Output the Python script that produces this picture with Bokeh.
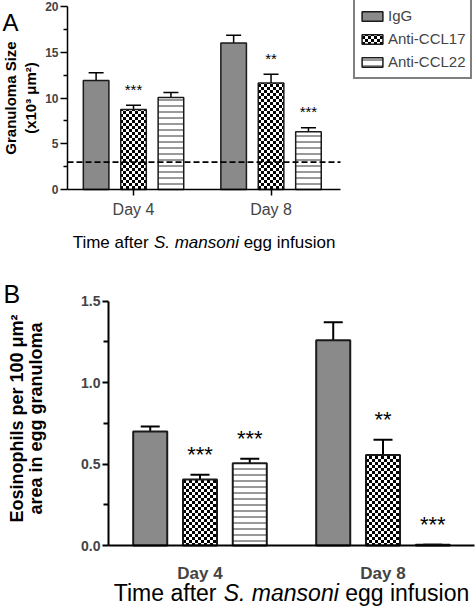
import zlib, struct, base64
from math import pi
from bokeh.plotting import figure
from bokeh.models import (ColumnDataSource, Whisker, TeeHead, Label, Legend, LegendItem,
                          FixedTicker, ImageURLTexture, Range1d, PrintfTickFormatter)
from bokeh.layouts import column
from bokeh.core.properties import value
from bokeh.embed import file_html
from bokeh.resources import INLINE

# ---------------- data ----------------
days = ["Day 4", "Day 8"]
groups = ["IgG", "Anti-CCL17", "Anti-CCL22"]

# Panel A: granuloma size (x10^3 um^2)
gran_igg = [11.9, 16.0]
gran_ccl17 = [8.75, 11.65]
gran_ccl22 = [10.05, 6.3]
gran_igg_sem = [0.85, 0.85]
gran_ccl17_sem = [0.45, 0.95]
gran_ccl22_sem = [0.55, 0.45]
gran_igg_sig = ["", ""]
gran_ccl17_sig = ["***", "**"]
gran_ccl22_sig = ["", "***"]
gran_baseline = 3.0
gran_ticks = [0, 5, 10, 15, 20]

# Panel B: eosinophils per 100 um^2
eos_igg = [0.70, 1.26]
eos_ccl17 = [0.405, 0.555]
eos_ccl22 = [0.505, 0.005]
eos_igg_sem = [0.03, 0.11]
eos_ccl17_sem = [0.03, 0.095]
eos_ccl22_sem = [0.027, 0.0]
eos_igg_sig = ["", ""]
eos_ccl17_sig = ["***", "**"]
eos_ccl22_sig = ["***", "***"]
eos_ticks = [0.0, 0.5, 1.0, 1.5]

FONT = "Liberation Sans"
W = 475


def checker_png(cell):
    n = 2 * cell
    raw = b"".join(b"\x00" + bytes(0 if ((xx // cell) + (yy // cell)) % 2 == 0 else 255
                                   for xx in range(n)) for yy in range(n))

    def chunk(tag, data):
        return (struct.pack(">I", len(data)) + tag + data +
                struct.pack(">I", zlib.crc32(tag + data) & 0xffffffff))
    png = (b"\x89PNG\r\n\x1a\n" + chunk(b"IHDR", struct.pack(">IIBBBBB", n, n, 8, 0, 0, 0, 0)) +
           chunk(b"IDAT", zlib.compress(raw)) + chunk(b"IEND", b""))
    return "data:image/png;base64," + base64.b64encode(png).decode()


tex_checker = ImageURLTexture(url=checker_png(3))

offsets = [-0.272, 0.0, 0.272]
bar_width = 0.186

STYLES = {
    "IgG": dict(fill_color="#8a8a8a"),
    "Anti-CCL17": dict(fill_color="white", hatch_pattern=value("checker"), hatch_color="black",
                       hatch_scale=6, hatch_extra={"checker": tex_checker}),
    "Anti-CCL22": dict(fill_color="white", hatch_pattern="horizontal_line",
                       hatch_color="#333333", hatch_scale=6, hatch_weight=1),
}


def make_fig(height, xr, yr, box):
    """Frame covers the whole canvas; data extents xr/yr land on pixel box (l, r, t, b)."""
    l, r, t, b = box
    kx = (r - l) / (xr[1] - xr[0])
    ky = (b - t) / (yr[1] - yr[0])
    x0 = xr[0] - l / kx
    x1 = xr[1] + (W - r) / kx
    y0 = yr[0] - (height - b) / ky
    y1 = yr[1] + t / ky
    p = figure(width=W, height=height, x_range=Range1d(x0, x1), y_range=Range1d(y0, y1),
               output_backend="svg", toolbar_location=None, min_border=0)
    p.title.visible = False
    p.outline_line_color = None
    p.xgrid.visible = False
    p.ygrid.visible = False
    p.background_fill_color = "white"
    p.border_fill_color = "white"
    p.yaxis.fixed_location = xr[0]
    p.yaxis.bounds = yr
    p.xaxis.fixed_location = yr[0]
    p.xaxis.bounds = xr

    def X(px):
        return x0 + px / kx

    def Y(py):
        return y1 - py / ky
    return p, X, Y, ky


def add_bars(p, means, sems, sigs, lw, tee, star_size, star_gap_px, ky):
    renderers = []
    for g, o, m, s, sg in zip(groups, offsets, means, sems, sigs):
        xs = [i + o for i in range(len(days))]
        upper = [a + b for a, b in zip(m, s)]
        src = ColumnDataSource(dict(x=xs, top=m, upper=upper, sig=sg,
                                    star_y=[u + star_gap_px / ky for u in upper]))
        r = p.vbar(x="x", top="top", bottom=0, width=bar_width, source=src,
                   line_color="#1a1a1a", line_width=lw, **STYLES[g])
        renderers.append((g, r))
        p.add_layout(Whisker(source=src, base="x", lower="top", upper="upper", dimension="height",
                             line_color="black", line_width=lw,
                             upper_head=TeeHead(size=tee, line_width=lw, line_color="black"),
                             lower_head=None))
        p.text(x="x", y="star_y", text="sig", source=src, text_align="center",
               text_baseline="alphabetic",
               text_font=value(FONT), text_font_size=star_size, text_color="black")
    return renderers


def style_axes(p, yticks, lw, ylab_size, tick_out, minor_out):
    ya = p.yaxis[0]
    ya.ticker = FixedTicker(ticks=yticks,
                            minor_ticks=[(a + b) / 2 for a, b in zip(yticks, yticks[1:])])
    ya.axis_line_width = lw
    ya.major_tick_line_width = lw
    ya.minor_tick_line_width = lw
    ya.major_tick_out = tick_out
    ya.major_tick_in = 0
    ya.minor_tick_out = minor_out
    ya.minor_tick_in = 0
    ya.major_label_text_font = FONT
    ya.major_label_text_font_style = "bold"
    ya.major_label_text_font_size = ylab_size
    ya.major_label_standoff = 2
    xa = p.xaxis[0]
    ticks = list(range(len(days)))
    xa.ticker = FixedTicker(ticks=ticks)
    xa.major_label_overrides = dict(zip(ticks, days))
    xa.axis_line_width = lw
    xa.major_tick_line_width = lw
    xa.major_tick_in = 0
    xa.minor_tick_line_color = None
    xa.major_label_text_font = FONT


def text_label(p, x, y, txt, size, style="normal", angle=0.0, align="center", baseline="middle"):
    p.add_layout(Label(x=x, y=y, text=txt, angle=angle, text_font=FONT, text_font_style=style,
                       text_font_size=f"{size}px", text_align=align, text_baseline=baseline,
                       text_color="black"))


def add_title(p, X, Y, cx, cy, size):
    # "Time after " + italic "S. mansoni" + " egg infusion"  (advance widths in em)
    segs = [("Time after", "normal", 0.0), ("S. mansoni", "italic", 4.779),
            ("egg infusion", "normal", 10.059)]
    start = cx - 15.451 * size / 2
    for txt, st, em in segs:
        text_label(p, X(start + em * size), Y(cy), txt, size, st, align="left")


# ---------------- Panel A ----------------
HA = 255
xa_ext, ya_ext = (-0.48, 1.505), (0, 20)
pa, XA, YA, kya = make_fig(HA, xa_ext, ya_ext, (67, 340, 6, 189))
ra = add_bars(pa, [gran_igg, gran_ccl17, gran_ccl22],
              [gran_igg_sem, gran_ccl17_sem, gran_ccl22_sem],
              [gran_igg_sig, gran_ccl17_sig, gran_ccl22_sig], 1.5, 15, "15px", 16, kya)
pa.line(x=list(xa_ext), y=[gran_baseline, gran_baseline], line_color="black",
        line_width=1.8, line_dash="6 3")
style_axes(pa, gran_ticks, 1.5, "12px", 7, 4)
pa.xaxis.major_tick_out = 6
pa.xaxis.major_label_text_font_size = "16px"
pa.xaxis.major_label_standoff = 5

legend = Legend(items=[LegendItem(label=g, renderers=[r]) for g, r in ra],
                location=(353, HA - 79),
                border_line_color="black", border_line_width=2, padding=4, spacing=0, margin=0,
                glyph_width=26, glyph_height=12, label_height=23, label_standoff=3,
                label_text_font=FONT, label_text_font_size="15px",
                background_fill_color="white", background_fill_alpha=1.0)
pa.add_layout(legend)

text_label(pa, XA(9.5), YA(97.5), "Granuloma Size", 15, "bold", angle=pi / 2)
text_label(pa, XA(29.5), YA(97.5), "(x10³ μm²)", 15, "bold", angle=pi / 2)
text_label(pa, XA(2), YA(22), "A", 24, align="left", baseline="alphabetic")
add_title(pa, XA, YA, 203.5, 241.5, 17)

# ---------------- Panel B ----------------
HB = 351
pb, XB, YB, kyb = make_fig(HB, (-0.5, 1.5), (0, 1.5), (108, 474, 45.7, 290))
rb = add_bars(pb, [eos_igg, eos_ccl17, eos_ccl22],
              [eos_igg_sem, eos_ccl17_sem, eos_ccl22_sem],
              [eos_igg_sig, eos_ccl17_sig, eos_ccl22_sig], 2, 19, "22px", 20, kyb)
style_axes(pb, eos_ticks, 2, "14px", 6, 5)
pb.yaxis.formatter = PrintfTickFormatter(format="%.1f")
pb.xaxis.major_tick_out = 0
pb.xaxis.major_tick_line_color = None
pb.xaxis.major_label_text_font_size = "17px"
pb.xaxis.major_label_text_font_style = "bold"
pb.xaxis.major_label_standoff = 18

text_label(pb, XB(16.5), YB(163), "Eosinophils per 100 μm²", 18, "bold", angle=pi / 2)
text_label(pb, XB(35), YB(163), "area in egg granuloma", 18, "bold", angle=pi / 2)
text_label(pb, XB(3), YB(38), "B", 25, align="left", baseline="alphabetic")
add_title(pb, XB, YB, 291, 337, 23)

layout = column(pa, pb)
open("out.html", "w").write(file_html(layout, INLINE))
